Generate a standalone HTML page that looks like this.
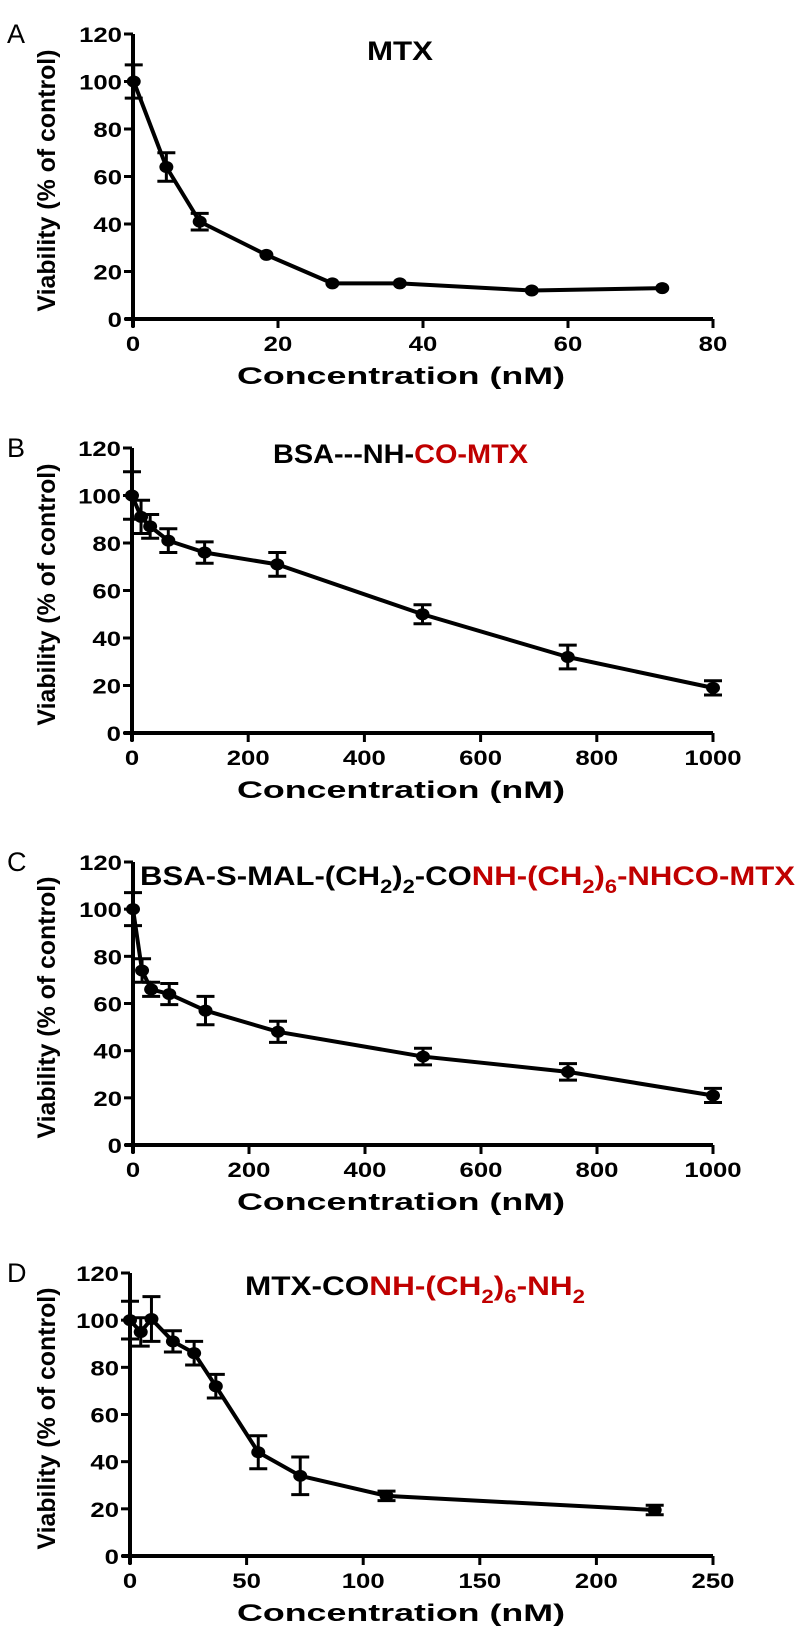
<!DOCTYPE html>
<html><head><meta charset="utf-8"><style>
body{margin:0;background:#fff}
svg{display:block}
text{font-family:"Liberation Sans",Arial,sans-serif}
</style></head><body>
<svg id="fig" width="800" height="1630" viewBox="0 0 800 1630" xmlns="http://www.w3.org/2000/svg"></svg>
<script>
// Panel A data
const xA=[0.1,4.6,9.2,18.4,27.5,36.8,55,73];
const yA=[100,64,41,27,15,15,12,13];
const eA=[7,6,3.5,0,0,0,0,0];
const ticksA=[0,20,40,60,80];
// Panel B data
const xB=[0,15.6,31.25,62.5,125,250,500,750,1000];
const yB=[100,91,87,81,76,71,50,32,19];
const eB=[10,7,5,5,4.5,5,4,5,3];
const ticksB=[0,200,400,600,800,1000];
// Panel C data
const xC=[0,15.6,31.25,62.5,125,250,500,750,1000];
const yC=[100,74,66,64,57,48,37.5,31,21];
const eC=[7,5,3,4.5,6,4.5,3.5,3.5,3];
const ticksC=[0,200,400,600,800,1000];
// Panel D data
const xD=[0,4.6,9.2,18.4,27.5,36.8,55,73,110,225];
const yD=[100,95,100.5,91,86,72,44,34,25.5,19.5];
const eD=[8,6,9.5,4.5,5,5,7,8,2,2];
const ticksD=[0,50,100,150,200,250];
const yTicks=[0,20,40,60,80,100,120];

const NS="http://www.w3.org/2000/svg";
const svg=document.getElementById('fig');
function mk(tag,attrs,parent,txt){const e=document.createElementNS(NS,tag);for(const k in attrs)e.setAttribute(k,attrs[k]);if(txt!==undefined)e.textContent=txt;(parent||svg).appendChild(e);return e;}

function panel(id,letter,x0,x1,xmax,yTop,y0,xs,ys,es,xt,titleParts,titleX,titleY,titleLen){
  const g=mk('g',{});
  
  
  const X=v=>x0+(x1-x0)*v/xmax;
  const Y=v=>y0-(y0-yTop)*v/120;
  const lab=mk('text',{x:7,y:yTop+9,'font-size':27},g,letter);
  
  
  const ax=mk('path',{d:`M${x0} ${yTop} V${y0+8} M${x0-8} ${y0} H${x1}`,stroke:'#000','stroke-width':4,fill:'none'},g);
  
  
  yTicks.forEach(v=>{
    mk('line',{x1:x0-9,x2:x0,y1:Y(v),y2:Y(v),stroke:'#000','stroke-width':3},g);
    const s=String(v);
    const t=mk('text',{x:x0-11,y:Y(v)+8,'text-anchor':'end','font-size':21,'font-weight':'bold',textLength:s.length*14.3,lengthAdjust:'spacingAndGlyphs'},g,s);
    
    
  });
  xt.forEach(v=>{
    mk('line',{x1:X(v),x2:X(v),y1:y0,y2:y0+9,stroke:'#000','stroke-width':3},g);
    const s=String(v);
    const t=mk('text',{x:X(v),y:y0+32,'text-anchor':'middle','font-size':21,'font-weight':'bold',textLength:s.length*14.3,lengthAdjust:'spacingAndGlyphs'},g,s);
    
    
  });
  const yt=mk('text',{x:0,y:0,transform:`translate(55 ${(yTop+y0)/2+4}) rotate(-90)`,'text-anchor':'middle','font-size':25,'font-weight':'bold',textLength:262,lengthAdjust:'spacingAndGlyphs'},g,'Viability (% of control)');
  
  
  const xtl=mk('text',{x:401,y:y0+65,'text-anchor':'middle','font-size':24,'font-weight':'bold',textLength:328,lengthAdjust:'spacingAndGlyphs'},g,'Concentration (nM)');
  
  
  let d='';xs.forEach((v,i)=>{d+=(i?'L':'M')+X(v)+' '+Y(ys[i]);});
  const ln=mk('path',{d:d,stroke:'#000','stroke-width':4,fill:'none','stroke-linejoin':'round'},g);
  
  
  xs.forEach((v,i)=>{
    if(es[i]>0){
      const cx=X(v),a=Y(ys[i]+es[i]),b=Y(ys[i]-es[i]);
      const eb=mk('path',{d:`M${cx} ${a}V${b}M${cx-9} ${a}H${cx+9}M${cx-9} ${b}H${cx+9}`,stroke:'#000','stroke-width':3,fill:'none'},g);
      
      
    }
    const p=mk('ellipse',{cx:X(v),cy:Y(ys[i]),rx:7,ry:6,fill:'#000'},g);
    
    
  });
  const tt=mk('text',{x:titleX,y:titleY,'font-size':27,'font-weight':'bold',textLength:titleLen,lengthAdjust:'spacingAndGlyphs'},g);
  
  
  titleParts.forEach(p=>{
    const s=mk('tspan',{fill:p[1]?'#c00000':'#000'},tt,p[0]);
    if(p[2]){s.setAttribute('font-size',19);s.setAttribute('dy',8);}
    if(p[3]){s.setAttribute('dy',-8);}
  });
}
panel('a','A',133,713,80,34,319,xA,yA,eA,ticksA,[['MTX',0]],367,60,66);
panel('b','B',132,713,1000,448,733,xB,yB,eB,ticksB,[['BSA---NH-',0],['CO-MTX',1]],273,463,255);
panel('c','C',133,713,1000,862,1145,xC,yC,eC,ticksC,
 [['BSA-S-MAL-(CH',0],['2',0,1],[')',0,0,1],['2',0,1],['-CO',0,0,1],['NH-(CH',1],['2',1,1],[')',1,0,1],['6',1,1],['-NHCO-MTX',1,0,1]],140,885,655);
panel('d','D',130,713,250,1273,1556,xD,yD,eD,ticksD,
 [['MTX-CO',0],['NH-(CH',1],['2',1,1],[')',1,0,1],['6',1,1],['-NH',1,0,1],['2',1,1]],245,1295,340);
</script>
</body></html>
